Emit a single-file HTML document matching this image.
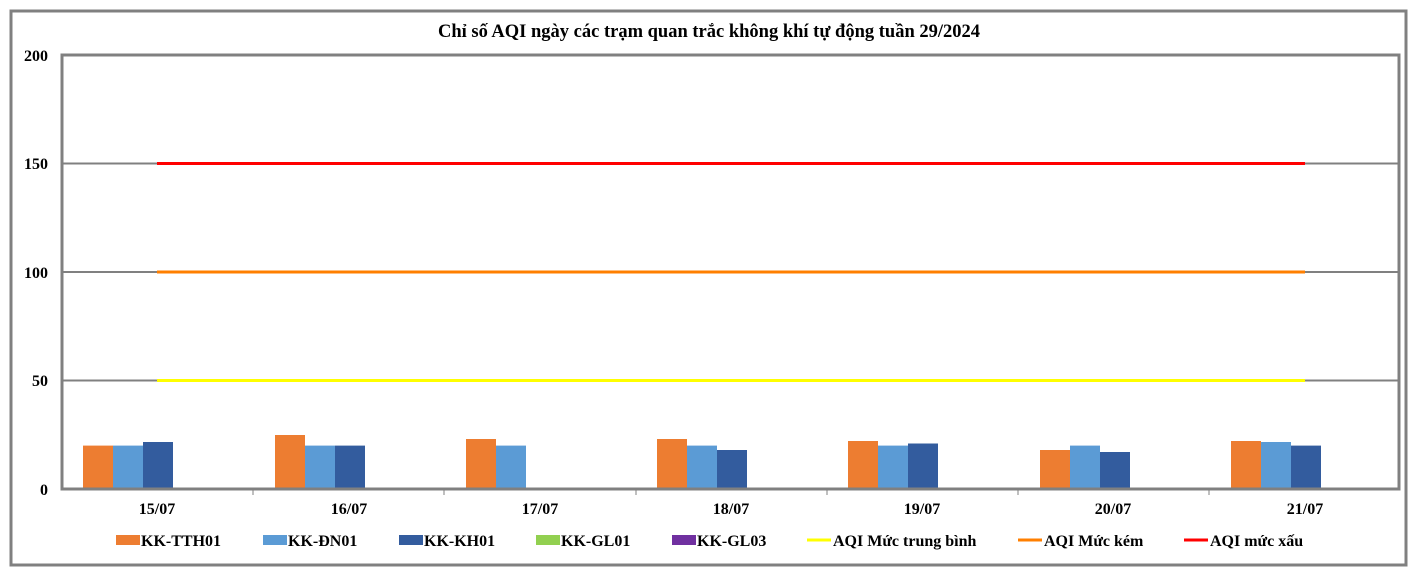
<!DOCTYPE html>
<html><head><meta charset="utf-8"><style>
html,body{margin:0;padding:0;background:#fff;}
svg{display:block;font-family:"Liberation Serif",serif;font-weight:bold;}
</style></head><body>
<svg width="1416" height="577" viewBox="0 0 1416 577" xmlns="http://www.w3.org/2000/svg">
<rect x="0" y="0" width="1416" height="577" fill="#fff"/>
<rect x="11" y="11" width="1395" height="554" fill="none" stroke="#808080" stroke-width="3"/>
<text x="709" y="37" font-size="18.5" text-anchor="middle" fill="#000">Chỉ số AQI ngày các trạm quan trắc không khí tự động tuần 29/2024</text>
<g stroke="#808080" stroke-width="2">
<line x1="62" y1="163.5" x2="1399" y2="163.5"/>
<line x1="62" y1="272" x2="1399" y2="272"/>
<line x1="62" y1="380.5" x2="1399" y2="380.5"/>
</g>
<rect x="62" y="55" width="1337" height="434" fill="none" stroke="#808080" stroke-width="3"/>
<g font-size="16" text-anchor="end" fill="#000">
<text x="48" y="61">200</text><text x="48" y="169">150</text><text x="48" y="278">100</text><text x="48" y="386">50</text><text x="48" y="495">0</text>
</g>
<g stroke="#808080" stroke-width="1">
<line x1="253" y1="489" x2="253" y2="495"/><line x1="444" y1="489" x2="444" y2="495"/><line x1="636" y1="489" x2="636" y2="495"/><line x1="827" y1="489" x2="827" y2="495"/><line x1="1018" y1="489" x2="1018" y2="495"/><line x1="1209" y1="489" x2="1209" y2="495"/>
</g>
<g>
<rect x="83" y="445.6" width="30" height="42.4" fill="#ED7D31"/><rect x="113" y="445.6" width="30" height="42.4" fill="#5B9BD5"/><rect x="143" y="442" width="30" height="46" fill="#335C9E"/>
<rect x="275" y="435" width="30" height="53" fill="#ED7D31"/><rect x="305" y="445.6" width="30" height="42.4" fill="#5B9BD5"/><rect x="335" y="445.6" width="30" height="42.4" fill="#335C9E"/>
<rect x="466" y="439" width="30" height="49" fill="#ED7D31"/><rect x="496" y="445.6" width="30" height="42.4" fill="#5B9BD5"/>
<rect x="657" y="439" width="30" height="49" fill="#ED7D31"/><rect x="687" y="445.6" width="30" height="42.4" fill="#5B9BD5"/><rect x="717" y="450" width="30" height="38" fill="#335C9E"/>
<rect x="848" y="441" width="30" height="47" fill="#ED7D31"/><rect x="878" y="445.6" width="30" height="42.4" fill="#5B9BD5"/><rect x="908" y="443.5" width="30" height="44.5" fill="#335C9E"/>
<rect x="1040" y="450" width="30" height="38" fill="#ED7D31"/><rect x="1070" y="445.6" width="30" height="42.4" fill="#5B9BD5"/><rect x="1100" y="452" width="30" height="36" fill="#335C9E"/>
<rect x="1231" y="441" width="30" height="47" fill="#ED7D31"/><rect x="1261" y="442" width="30" height="46" fill="#5B9BD5"/><rect x="1291" y="445.6" width="30" height="42.4" fill="#335C9E"/>
</g>
<line x1="62" y1="489" x2="1399" y2="489" stroke="#808080" stroke-width="3"/>
<line x1="157" y1="163.5" x2="1305" y2="163.5" stroke="#FF0000" stroke-width="3"/>
<line x1="157" y1="272" x2="1305" y2="272" stroke="#FF7F00" stroke-width="3"/>
<line x1="157" y1="380.5" x2="1305" y2="380.5" stroke="#FFFF00" stroke-width="3"/>
<g font-size="16" text-anchor="middle" fill="#000">
<text x="157" y="514">15/07</text><text x="349" y="514">16/07</text><text x="540" y="514">17/07</text><text x="731" y="514">18/07</text><text x="922" y="514">19/07</text><text x="1113" y="514">20/07</text><text x="1305" y="514">21/07</text>
</g>
<g font-size="16" fill="#000">
<rect x="116" y="535" width="24" height="10" fill="#ED7D31"/><text x="141" y="546">KK-TTH01</text>
<rect x="263" y="535" width="24" height="10" fill="#5B9BD5"/><text x="288" y="546">KK-ĐN01</text>
<rect x="399" y="535" width="24" height="10" fill="#335C9E"/><text x="424" y="546">KK-KH01</text>
<rect x="536" y="535" width="24" height="10" fill="#92D050"/><text x="561" y="546">KK-GL01</text>
<rect x="672" y="535" width="24" height="10" fill="#7030A0"/><text x="697" y="546">KK-GL03</text>
<line x1="807" y1="540" x2="831" y2="540" stroke="#FFFF00" stroke-width="3"/><text x="833" y="546">AQI Mức trung bình</text>
<line x1="1018" y1="540" x2="1042" y2="540" stroke="#FF7F00" stroke-width="3"/><text x="1044" y="546">AQI Mức kém</text>
<line x1="1184" y1="540" x2="1208" y2="540" stroke="#FF0000" stroke-width="3"/><text x="1210" y="546">AQI mức xấu</text>
</g>
</svg>
</body></html>
